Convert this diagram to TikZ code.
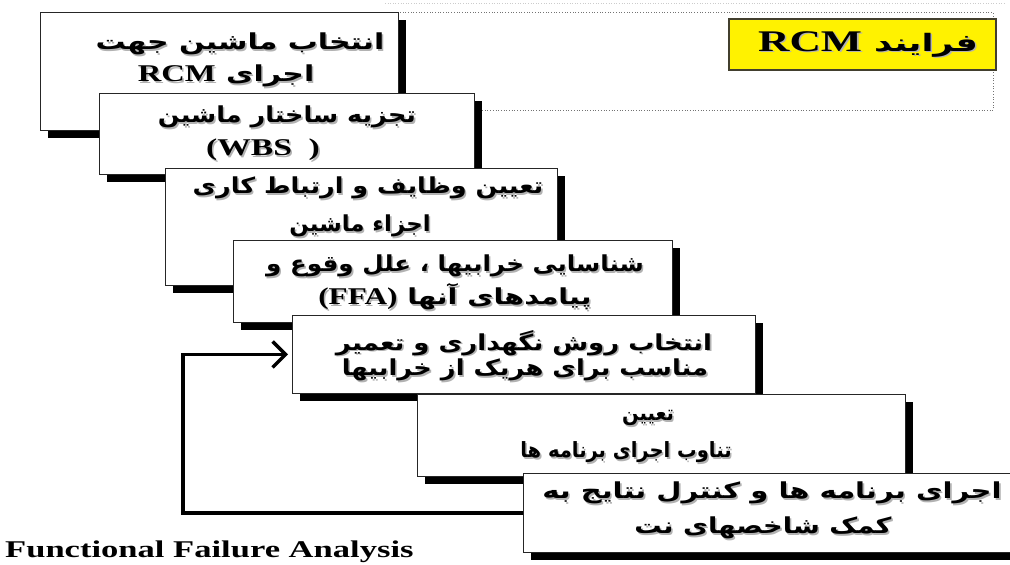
\documentclass[tikz,border=0pt]{standalone}
\usepackage{fontspec}
\usepackage{graphicx}
\setmainfont{Liberation Serif}
\newfontfamily\fa[Script=Arabic]{DejaVu Sans}
\TeXXeTstate=1
\usetikzlibrary{shadows,arrows.meta}

% right-to-left run, Latin run inside it
\newcommand{\fline}[1]{\beginR #1\endR}
\newcommand{\lat}[1]{\beginL{\rmfamily\bfseries\fontsize{24}{28}\selectfont #1}\endL}
% one line of box text (widened by #4) with its soft shadow
\newcommand{\boxline}[5]{%
  \node[txt, text=black!30] (#1s) at (#2+1.6,#3+1.6) {\scalebox{#4}[1]{#5}};
  \node[txt] (#1) at (#2,#3) {\scalebox{#4}[1]{#5}};}

\tikzset{
  stepbox/.style={draw=black!85, line width=0.9pt, fill=white, inner sep=0pt,
    anchor=north west,
    drop shadow={shadow xshift=8pt, shadow yshift=-8pt, fill=black, opacity=1}},
  txt/.style={inner sep=0pt, text=black, font=\fa\bfseries\fontsize{22}{26}\selectfont},
  small/.style={font=\fa\bfseries\fontsize{21}{25}\selectfont},
  frame/.style={draw=black!55, dotted, line width=0.7pt},
  titlebox/.style={draw=black!70!olive, line width=1.6pt, fill=yellow, inner sep=0pt,
    anchor=north west},
  feedback/.style={draw=black, line width=3.4pt,
    -{Straight Barb[length=13pt,width=26pt,line width=3.4pt]}, shorten >=4pt}
}

\begin{document}
\begin{tikzpicture}[x=1pt,y=-1pt]
\useasboundingbox (0,0) rectangle (1010,565);

% dotted frame around the title
\draw[frame] (40,12) rectangle (993,110);
\draw[draw=black!20, dotted, line width=0.6pt] (385,3) -- (1005,3);

% title
\node[titlebox, minimum width=267pt, minimum height=51pt] (title) at (728,18) {};
\begin{scope}[txt/.append style={font=\fa\bfseries\fontsize{24}{28}\selectfont}]
\boxline{tt}{868}{44}{1.45}{\fline{فرایند \lat{\fontsize{30}{32}\selectfont RCM}}}
\end{scope}

% staircase of steps
\node[stepbox, minimum width=358pt, minimum height=118pt] (b1) at (40,12) {};
\boxline{b1a}{240}{44}{1.36}{\fline{انتخاب ماشین جهت}}
\boxline{b1b}{226}{76}{1.36}{\fline{اجرای \lat{RCM}}}

\node[stepbox, minimum width=375pt, minimum height=81pt] (b2) at (99,93) {};
\boxline{b2a}{287}{117}{1.16}{\fline{تجزیه ساختار ماشین}}
\boxline{b2b}{263}{150}{1.4}{\lat{(WBS\ \ )}}

\node[stepbox, minimum width=392pt, minimum height=117pt] (b3) at (165,168) {};
\boxline{b3a}{368}{188}{1.16}{\fline{تعیین وظایف و ارتباط کاری}}
\boxline{b3b}{360}{226}{1.04}{\fline{اجزاء ماشین}}

\node[stepbox, minimum width=439pt, minimum height=82pt] (b4) at (233,240) {};
\boxline{b4a}{455}{266}{1.12}{\fline{شناسایی خرابیها ، علل وقوع و}}
\boxline{b4b}{455}{297}{1.3}{\fline{پیامدهای آنها \lat{(FFA)}}}

\node[stepbox, minimum width=463pt, minimum height=78pt] (b5) at (292,315) {};
\boxline{b5a}{524}{343}{1.18}{\fline{انتخاب روش نگهداری و تعمیر}}
\boxline{b5b}{525}{370}{1.17}{\fline{مناسب برای هریک از خرابیها}}

\node[stepbox, minimum width=488pt, minimum height=82pt] (b6) at (417,394) {};
\begin{scope}[txt/.append style={small}]
\boxline{b6a}{648}{418}{0.93}{\fline{تعیین}}
\boxline{b6b}{626}{452}{0.93}{\fline{تناوب اجرای برنامه ها}}
\end{scope}

\node[stepbox, minimum width=500pt, minimum height=79pt] (b7) at (523,473) {};
\boxline{b7a}{772}{493}{1.32}{\fline{اجرای برنامه ها و کنترل نتایج به}}
\boxline{b7b}{763}{528}{1.24}{\fline{کمک شاخصهای نت}}

% feedback loop from the last step back to the method selection
\draw[feedback] (b7.west) -- ++(-340,0) |- (b5.west);

% caption
\node[anchor=base west, inner sep=0pt] (cap) at (5,557)
  {\scalebox{1.44}[1]{\bfseries\fontsize{24}{28}\selectfont Functional Failure Analysis}};
\end{tikzpicture}
\end{document}
